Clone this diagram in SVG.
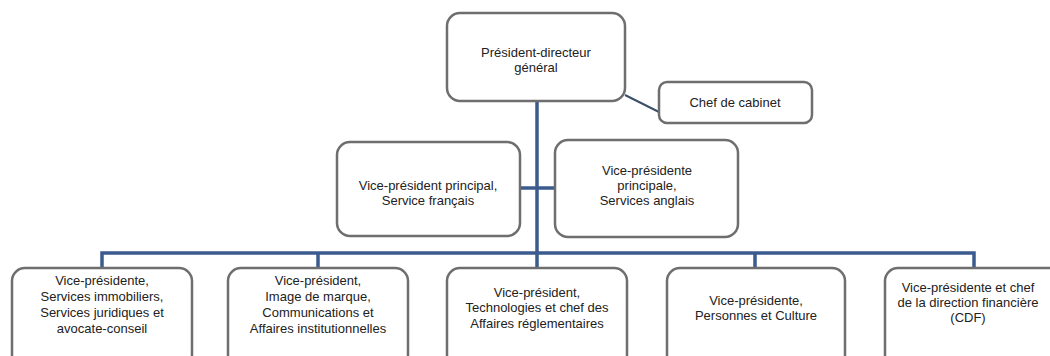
<svg xmlns="http://www.w3.org/2000/svg" width="1050" height="356" viewBox="0 0 1050 356">
<style>
.box{fill:#fff;stroke:#6e6e6e;stroke-width:2.5}
.con{stroke:#3b5b8e;stroke-width:3.5;fill:none}
text{font-family:"Liberation Sans",Arial,sans-serif;font-size:13px;fill:#222;text-anchor:middle}
</style>
<rect width="1050" height="356" fill="#fff"/>
<g id="connectors">
<path class="con" d="M537 101 V253"/>
<path class="con" d="M520 188 H555"/>
<path class="con" d="M102 268 V253 H974 V268"/>
<path class="con" d="M318 253 V268 M537 253 V268 M755 253 V268"/>
<path d="M625 95 L659 112" stroke="#3b4f6a" stroke-width="2" fill="none"/>
</g>
<g id="pdg"><rect class="box" x="447" y="13" width="178" height="88" rx="13"/><text x="536" y="57">Président-directeur</text><text x="536" y="72">général</text></g>
<g id="cabinet"><rect class="box" x="659" y="82" width="153" height="41" rx="8"/><text x="735" y="107">Chef de cabinet</text></g>
<g id="vp-fr"><rect class="box" x="337" y="142" width="183" height="94" rx="13"/><text x="428" y="190">Vice-président principal,</text><text x="428" y="205">Service français</text></g>
<g id="vp-en"><rect class="box" x="555" y="140" width="183" height="97" rx="13"/><text x="647" y="175">Vice-présidente</text><text x="647" y="190">principale,</text><text x="647" y="205">Services anglais</text></g>
<g id="vp-immo"><rect class="box" x="12" y="268" width="180" height="100" rx="13"/><text x="102" y="285">Vice-présidente,</text><text x="102" y="301">Services immobiliers,</text><text x="102" y="317">Services juridiques et</text><text x="102" y="333">avocate-conseil</text></g>
<g id="vp-image"><rect class="box" x="228" y="268" width="180" height="100" rx="13"/><text x="318" y="285">Vice-président,</text><text x="318" y="301">Image de marque,</text><text x="318" y="317">Communications et</text><text x="318" y="333">Affaires institutionnelles</text></g>
<g id="vp-tech"><rect class="box" x="447" y="268" width="180" height="100" rx="13"/><text x="537" y="297">Vice-président,</text><text x="537" y="312">Technologies et chef des</text><text x="537" y="328">Affaires réglementaires</text></g>
<g id="vp-pers"><rect class="box" x="667" y="268" width="178" height="100" rx="13"/><text x="756" y="305">Vice-présidente,</text><text x="756" y="320">Personnes et Culture</text></g>
<g id="vp-cdf"><rect class="box" x="885" y="268" width="180" height="100" rx="13"/><text x="968" y="292">Vice-présidente et chef</text><text x="968" y="307">de la direction financière</text><text x="968" y="322">(CDF)</text></g>
</svg>
